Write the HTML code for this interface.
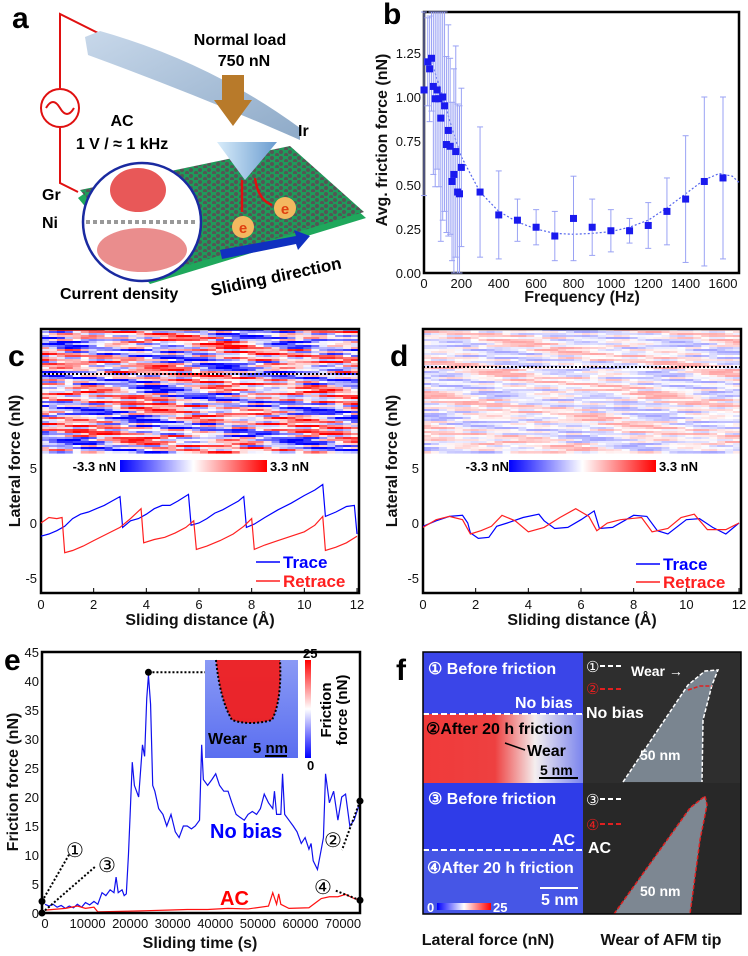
<!DOCTYPE html>
<html><head><meta charset="utf-8"><style>
html,body{margin:0;padding:0;background:#fff;}
svg{display:block;font-family:"Liberation Sans",Arial,sans-serif;}
.t{font-size:13px;fill:#111;}
.tt{font-size:16px;font-weight:bold;fill:#111;}
.pl{font-size:30px;font-weight:bold;fill:#000;}
.bw{font-weight:bold;fill:#fff;font-size:16px;}
</style></head><body>
<svg id="fig" width="748" height="956" viewBox="0 0 748 956" xmlns="http://www.w3.org/2000/svg">
<defs>
<linearGradient id="cbar" x1="0" x2="1"><stop offset="0" stop-color="#0000ff"/><stop offset="0.5" stop-color="#ffffff"/><stop offset="1" stop-color="#ff0000"/></linearGradient>
<linearGradient id="cbarv" x1="0" x2="0" y1="1" y2="0"><stop offset="0" stop-color="#0000ff"/><stop offset="0.5" stop-color="#ffffff"/><stop offset="1" stop-color="#ff0000"/></linearGradient>
<linearGradient id="wearmap" x1="0" x2="1"><stop offset="0" stop-color="#f03a3a"/><stop offset="0.45" stop-color="#ee4040"/><stop offset="0.7" stop-color="#f4eeee"/><stop offset="1" stop-color="#7a84ee"/></linearGradient>
<linearGradient id="insetg" x1="0" x2="0" y1="0" y2="1"><stop offset="0" stop-color="#8a9af5"/><stop offset="1" stop-color="#5a6ef0"/></linearGradient>
<linearGradient id="cant" x1="0" x2="1" y1="0" y2="1"><stop offset="0" stop-color="#c8d8ea"/><stop offset="1" stop-color="#8eaac8"/></linearGradient>
<linearGradient id="tipg" x1="0" x2="1"><stop offset="0" stop-color="#d8ecfa"/><stop offset="1" stop-color="#6a9cd0"/></linearGradient>
<pattern id="gr" width="9" height="6" patternUnits="userSpaceOnUse"><rect width="9" height="6" fill="#1f9a5a"/><circle cx="2" cy="2" r="2" fill="#555"/><circle cx="7" cy="5" r="2" fill="#555"/></pattern>
</defs>

<!-- Panel a -->
<g>
<text class="pl" x="12" y="28">a</text>
<polyline points="98,33 60,14 60,88" fill="none" stroke="#e01010" stroke-width="2"/>
<polyline points="60,128 60,183 78,192" fill="none" stroke="#e01010" stroke-width="2"/>
<circle cx="60" cy="108" r="19" fill="#fff" stroke="#e01010" stroke-width="2"/>
<path d="M46,108 Q53,96 60,108 T74,108" fill="none" stroke="#e01010" stroke-width="2"/>
<polygon points="78,198 92,188 290,150 366,218 150,284" fill="#1fa85c"/>
<polygon points="80,190 290,146 364,212 152,276" fill="url(#gr)"/>
<path d="M85,37 L100,31 Q210,62 300,128 L300,140 Q200,96 88,55 Z" fill="url(#cant)"/>
<polygon points="217,142 277,142 245,180" fill="url(#tipg)"/>
<polygon points="222,75 244,75 244,100 252,100 233,126 214,100 222,100" fill="#b87a2a"/>
<circle cx="142" cy="222" r="59" fill="#fff" stroke="#1a2aa0" stroke-width="2.5"/>
<ellipse cx="138" cy="190" rx="28" ry="22" fill="#e02020" opacity="0.75"/>
<ellipse cx="142" cy="250" rx="45" ry="22" fill="#d83030" opacity="0.55"/>
<line x1="86" y1="222" x2="198" y2="222" stroke="#999" stroke-width="4" stroke-dasharray="4 3"/>
<circle cx="243" cy="227" r="11" fill="#f4b860"/>
<text x="243" y="233" text-anchor="middle" font-size="15" font-weight="bold" fill="#e04010">e</text>
<circle cx="285" cy="208" r="11" fill="#f4b860"/>
<text x="285" y="214" text-anchor="middle" font-size="15" font-weight="bold" fill="#e04010">e</text>
<line x1="242" y1="180" x2="242" y2="212" stroke="#e01010" stroke-width="2.5"/>
<path d="M255,178 Q258,200 272,205" fill="none" stroke="#e01010" stroke-width="2.5"/>
<polygon points="220,250 296,236 294,230 310,236 298,250 296,244 222,259" fill="#1030c0"/>
<text x="240" y="45" text-anchor="middle" font-size="16" font-weight="bold">Normal load</text>
<text x="244" y="66" text-anchor="middle" font-size="16" font-weight="bold">750 nN</text>
<text x="122" y="126" text-anchor="middle" font-size="16" font-weight="bold">AC</text>
<text x="122" y="149" text-anchor="middle" font-size="16" font-weight="bold">1 V / ≈ 1 kHz</text>
<text x="298" y="136" font-size="16" font-weight="bold">Ir</text>
<text x="42" y="200" font-size="16" font-weight="bold">Gr</text>
<text x="42" y="228" font-size="16" font-weight="bold">Ni</text>
<text x="60" y="299" font-size="16" font-weight="bold">Current density</text>
<text x="212" y="296" font-size="17" font-weight="bold" transform="rotate(-12 212 296)">Sliding direction</text>
</g>

<!-- Panel b -->
<g id="pb">
<text class="pl" x="383" y="24">b</text>
<rect x="424" y="12" width="315" height="261" fill="none" stroke="#000" stroke-width="2.5"/>
<text class="tt" transform="translate(387,140) rotate(-90)" text-anchor="middle">Avg. friction force (nN)</text>
<text class="tt" x="582" y="302" text-anchor="middle">Frequency (Hz)</text>
</g>

<!-- Panel c -->
<g id="pc">
<text class="pl" x="8" y="366">c</text>
<g id="hmc"></g>
<rect x="41" y="329" width="318" height="264" fill="none" stroke="#000" stroke-width="2.5"/>
<line x1="40" y1="374" x2="359" y2="374" stroke="#000" stroke-width="2" stroke-dasharray="2 2"/>
<text x="116" y="471" text-anchor="end" font-size="13" font-weight="bold">-3.3 nN</text>
<rect x="120" y="460" width="147" height="12" fill="url(#cbar)"/>
<text x="270" y="471" font-size="13" font-weight="bold">3.3 nN</text>
<text class="tt" transform="translate(20,461) rotate(-90)" text-anchor="middle">Lateral force  (nN)</text>
<text class="tt" x="200" y="625" text-anchor="middle">Sliding distance  (Å)</text>
<line x1="256" y1="562" x2="280" y2="562" stroke="#0000ff" stroke-width="1.5"/>
<text x="283" y="568" font-size="17" font-weight="bold" fill="#0000ff">Trace</text>
<line x1="256" y1="581" x2="280" y2="581" stroke="#ff2020" stroke-width="1.5"/>
<text x="283" y="587" font-size="17" font-weight="bold" fill="#ff2020">Retrace</text>
</g>

<!-- Panel d -->
<g id="pd">
<text class="pl" x="390" y="366">d</text>
<g id="hmd"></g>
<rect x="423" y="329" width="318" height="264" fill="none" stroke="#000" stroke-width="2.5"/>
<line x1="423" y1="367" x2="741" y2="367" stroke="#000" stroke-width="2" stroke-dasharray="2 2"/>
<text x="509" y="471" text-anchor="end" font-size="13" font-weight="bold">-3.3 nN</text>
<rect x="509" y="460" width="147" height="12" fill="url(#cbar)"/>
<text x="659" y="471" font-size="13" font-weight="bold">3.3 nN</text>
<text class="tt" transform="translate(397,461) rotate(-90)" text-anchor="middle">Lateral force  (nN)</text>
<text class="tt" x="582" y="625" text-anchor="middle">Sliding distance (Å)</text>
<line x1="636" y1="564" x2="660" y2="564" stroke="#0000ff" stroke-width="1.5"/>
<text x="663" y="570" font-size="17" font-weight="bold" fill="#0000ff">Trace</text>
<line x1="636" y1="582" x2="660" y2="582" stroke="#ff2020" stroke-width="1.5"/>
<text x="663" y="588" font-size="17" font-weight="bold" fill="#ff2020">Retrace</text>
</g>

<!-- Panel e -->
<g id="pe">
<text class="pl" x="4" y="670">e</text>
<text class="tt" transform="translate(18,782) rotate(-90)" text-anchor="middle">Friction force  (nN)</text>
<text class="tt" x="200" y="948" text-anchor="middle">Sliding time (s)</text>
<text x="210" y="838" font-size="20" font-weight="bold" fill="#0000ff">No bias</text>
<text x="220" y="905" font-size="20" font-weight="bold" fill="#ff0000">AC</text>
<rect x="205" y="660" width="93" height="98" fill="url(#insetg)"/>
<path d="M216,660 Q220,700 232,720 Q250,726 272,720 Q282,700 280,660 Z" fill="#f02020" opacity="0.95"/>
<path d="M216,660 Q220,700 232,720 Q250,726 272,720 Q282,700 280,660" fill="none" stroke="#000" stroke-width="2" stroke-dasharray="2 2"/>
<text x="208" y="744" font-size="16" font-weight="bold">Wear</text>
<text x="253" y="753" font-size="15" font-weight="bold">5 nm</text>
<line x1="265" y1="756" x2="287" y2="756" stroke="#000" stroke-width="2"/>
<rect x="305" y="660" width="6" height="98" fill="url(#cbarv)"/>
<text x="303" y="658" font-size="13" font-weight="bold">25</text>
<text x="307" y="770" font-size="13" font-weight="bold">0</text>
<text font-size="15" font-weight="bold" transform="translate(331,710) rotate(-90)" text-anchor="middle">Friction</text>
<text font-size="15" font-weight="bold" transform="translate(347,710) rotate(-90)" text-anchor="middle">force (nN)</text>
<text x="75" y="857" font-size="20" text-anchor="middle">①</text>
<text x="107" y="872" font-size="20" text-anchor="middle">③</text>
<text x="333" y="847" font-size="20" text-anchor="middle">②</text>
<text x="323" y="894" font-size="20" text-anchor="middle">④</text>
</g>

<!-- Panel f -->
<g>
<text class="pl" x="396" y="680">f</text>
<rect x="423" y="652" width="160" height="62" fill="#3a45e8"/>
<rect x="423" y="714" width="160" height="69" fill="url(#wearmap)"/>
<rect x="423" y="783" width="160" height="67" fill="#2f3ce8"/>
<rect x="423" y="850" width="160" height="64" fill="#4656e6"/>
<line x1="423" y1="714" x2="583" y2="714" stroke="#fff" stroke-width="2" stroke-dasharray="6 3"/>
<line x1="423" y1="850" x2="583" y2="850" stroke="#fff" stroke-width="2" stroke-dasharray="6 3"/>
<rect x="583" y="652" width="158" height="131" fill="#2e2e2e"/>
<rect x="583" y="783" width="158" height="131" fill="#282828"/>
<polygon points="623,782 688,685 705,671 718,670 712,685 703,720 702,782" fill="#7a8590"/>
<polyline points="623,782 688,685 705,671 718,670 712,685 703,720 702,782" fill="none" stroke="#fff" stroke-width="1.5" stroke-dasharray="4 2"/>
<polyline points="688,690 700,686 712,686" fill="none" stroke="#e02020" stroke-width="1.5" stroke-dasharray="4 2"/>
<polygon points="614,914 690,808 705,796 707,805 700,840 690,914" fill="#7d8792"/>
<polyline points="614,914 690,808 705,796 707,805 700,840 690,914" fill="none" stroke="#e02020" stroke-width="1.5" stroke-dasharray="4 2"/>
<rect x="423" y="652" width="318" height="262" fill="none" stroke="#000" stroke-width="1.5"/>
<text class="bw" x="428" y="674">① Before friction</text>
<text class="bw" x="515" y="708">No bias</text>
<text x="426" y="734" font-size="16" font-weight="bold">②After 20 h friction</text>
<text x="527" y="756" font-size="16" font-weight="bold">Wear</text>
<line x1="505" y1="743" x2="525" y2="750" stroke="#000" stroke-width="1.5"/>
<text x="540" y="775" font-size="14" font-weight="bold">5 nm</text>
<line x1="539" y1="778" x2="578" y2="778" stroke="#000" stroke-width="2"/>
<text class="bw" x="428" y="804">③ Before friction</text>
<text class="bw" x="552" y="845">AC</text>
<text class="bw" x="427" y="873">④After 20 h friction</text>
<line x1="540" y1="888" x2="578" y2="888" stroke="#fff" stroke-width="2"/>
<text class="bw" x="541" y="905" font-size="14">5 nm</text>
<text x="427" y="912" font-size="13" font-weight="bold" fill="#fff">0</text>
<rect x="437" y="903" width="54" height="7" fill="url(#cbar)"/>
<text x="493" y="912" font-size="13" font-weight="bold" fill="#fff">25</text>
<text x="586" y="672" font-size="15" fill="#fff">①</text><line x1="600" y1="666" x2="622" y2="666" stroke="#fff" stroke-width="2" stroke-dasharray="5 3"/>
<text x="631" y="676" font-size="14" font-weight="bold" fill="#fff">Wear →</text>
<text x="586" y="694" font-size="15" fill="#e02020">②</text><line x1="600" y1="689" x2="622" y2="689" stroke="#e02020" stroke-width="2" stroke-dasharray="5 3"/>
<text class="bw" x="586" y="718">No bias</text>
<text x="640" y="760" font-size="14" font-weight="bold" fill="#fff">50 nm</text>
<text x="586" y="805" font-size="15" fill="#fff">③</text><line x1="600" y1="799" x2="622" y2="799" stroke="#fff" stroke-width="2" stroke-dasharray="5 3"/>
<text x="586" y="830" font-size="15" fill="#e02020">④</text><line x1="600" y1="824" x2="622" y2="824" stroke="#e02020" stroke-width="2" stroke-dasharray="5 3"/>
<text class="bw" x="588" y="853">AC</text>
<text x="640" y="896" font-size="14" font-weight="bold" fill="#fff">50 nm</text>
<text class="tt" x="488" y="945" text-anchor="middle">Lateral force (nN)</text>
<text class="tt" x="661" y="945" text-anchor="middle">Wear of AFM tip</text>
</g>
</svg>
<script>
// Panel b data
var bFreq = [0,20,30,40,50,60,70,80,90,100,110,120,130,140,150,160,170,180,190,200,300,400,500,600,700,800,900,1000,1100,1200,1300,1400,1500,1600];
var bVal  = [1.04,1.20,1.16,1.22,1.06,0.99,1.04,0.99,0.88,1.00,0.95,0.73,0.81,0.72,0.52,0.56,0.69,0.46,0.45,0.60,0.46,0.33,0.30,0.26,0.21,0.31,0.26,0.24,0.24,0.27,0.35,0.42,0.52,0.54];
var bErr  = [0.6,0.25,0.3,0.3,0.5,0.5,0.45,0.5,0.7,0.7,0.6,0.5,0.6,0.5,0.45,0.6,0.6,0.5,0.5,0.45,0.37,0.25,0.12,0.10,0.14,0.24,0.16,0.12,0.07,0.13,0.19,0.36,0.48,0.46];
var bFitX = [40,100,150,200,300,400,500,600,700,800,900,1000,1100,1200,1300,1400,1500,1580,1650,1690];
var bFitY = [1.2,1.0,0.82,0.66,0.46,0.35,0.29,0.25,0.225,0.22,0.225,0.235,0.26,0.3,0.37,0.45,0.53,0.565,0.55,0.51];
var bXTicks = [0,200,400,600,800,1000,1200,1400,1600];
var bYTicks = [0,0.25,0.5,0.75,1.0,1.25];
// Panel c data
var cTraceX = [0,0.3,0.6,0.9,1.2,1.5,1.8,2.1,2.4,2.7,3.0,3.1,3.4,3.7,4.0,4.3,4.6,4.9,5.2,5.6,5.7,6.0,6.3,6.6,6.9,7.2,7.5,7.7,7.8,8.1,8.5,9.0,9.5,10.0,10.4,10.7,10.8,11.2,11.6,11.9,12.0];
var cTraceY = [-1.2,-1.0,-0.7,-0.3,0.4,0.8,1.0,1.3,1.6,2.0,2.4,-0.4,0.2,0.4,0.8,1.3,1.6,1.6,2.0,2.6,-0.2,0.0,0.4,0.9,1.2,1.6,2.0,2.4,-0.4,-0.1,0.5,1.2,1.8,2.5,3.0,3.5,0.6,1.0,1.5,1.6,-1.0];
var cRetrX = [0,0.3,0.6,0.8,0.9,1.2,1.6,2.0,2.5,3.0,3.4,3.8,3.9,4.3,4.7,5.1,5.5,5.8,5.9,6.3,6.8,7.3,7.7,8.0,8.1,8.5,9.0,9.5,10.0,10.4,10.7,10.8,11.2,11.6,12.0];
var cRetrY = [0,0.5,0.4,0.5,-2.7,-2.5,-2.1,-1.6,-1.0,-0.4,0.4,1.3,-1.8,-1.5,-1.3,-0.9,-0.4,0.2,-2.4,-2.1,-1.6,-1.0,-0.3,0.4,-2.4,-2.0,-1.6,-1.2,-0.8,-0.2,0.6,-2.5,-2.2,-1.8,-1.2];
var cdXTicks = [0,2,4,6,8,10,12];
var cdYTicks = [-5,0,5];
// Panel d data
var dTraceX = [0,0.5,1,1.5,1.7,1.8,2.1,2.5,2.8,3.2,3.8,4.4,4.6,5,5.5,6,6.5,6.7,7.2,8,8.5,8.9,9.3,10,10.5,11,11.5,12];
var dTraceY = [-0.3,0.2,0.6,0.7,0,-0.9,-1.4,-1.3,-0.3,0,0.5,0.8,0.2,-0.5,-0.4,0.3,1.1,-0.5,-0.4,0.7,0.6,-0.7,-1.0,0.3,0.4,-0.4,-1.0,0];
var dRetrX = [0,0.5,1,1.5,1.8,2.2,2.6,3,3.5,4,4.6,5.2,5.8,6.3,6.6,7,7.5,8.3,8.7,9.3,9.8,10.3,10.8,11.5,12];
var dRetrY = [-0.4,0.3,0.6,0.3,-1.0,-0.7,-0.3,0.7,0.2,-0.8,-0.4,0.5,1.3,0.6,-0.7,0,0.3,0.5,-0.8,-0.5,0.5,0.8,-0.6,-0.6,0];
// Panel e data (time in s)
var eNoBiasT = [0,950,1900,2850,3800,4800,5700,6700,7600,8600,9500,10500,11500,12400,13400,14300,15300,16200,16700,17200,18100,18600,19100,19600,20000,20500,21000,22000,22900,23400,23900,24300,24800,25300,25800,26700,27700,28600,29600,30600,31500,32500,33400,34400,35300,36300,36800,37200,38200,39200,40100,41000,42000,43000,43900,44900,45800,46800,47700,48700,49700,50600,51500,52500,53500,53900,54400,55400,55800,56300,57300,58300,59200,60200,61100,62000,62500,63000,64000,64900,65400,65900,66800,67800,68800,69700,70600,71600,72600,73500,74000];
var eNoBiasF = [1.5,1.2,1.5,1.0,1.3,0.8,1.2,0.9,1.5,1.0,1.8,1.4,2.0,1.5,3.5,3.0,4.0,3.5,6.2,3.5,4.0,3.0,3.3,10,17,26,22,20,29,27,37,41,36,22,21,18,17,15,17,14,13,15,15,14.5,15,16,29,23,22,23,24,22,21,21,19,17,16.5,16,17,17.5,17,18,20.5,19,18,21,17,17,24,17,16,15,14,12,13,11,12,9,7.5,11,13,24,19,21,16,20,20.5,15,16,18,19.3];
var eACT = [0,4800,7600,9500,11500,12400,19100,23900,28600,33400,38200,43000,47700,52500,53500,54400,54900,55400,57300,62000,64000,64900,66800,68800,70600,72600,74000];
var eACF = [0.5,0.8,1.2,0.8,1.0,0.2,0.3,0.4,0.5,0.6,0.6,0.8,0.7,1.2,3.5,1.5,3.3,1.5,0.8,0.9,2.0,2.5,2.8,2.8,3.2,2.5,2.2];
var eXTicks = [0,10000,20000,30000,40000,50000,60000,70000];
var eYTicks = [0,5,10,15,20,25,30,35,40,45];

var NS = "http://www.w3.org/2000/svg";
function mk(tag, attrs, parent){var e=document.createElementNS(NS,tag);for(var k in attrs)e.setAttribute(k,attrs[k]);parent.appendChild(e);return e;}
function lin(d0,d1,r0,r1){return function(v){return r0+(v-d0)*(r1-r0)/(d1-d0);};}

// ---- Panel b
var gb=document.getElementById('pb');
var bx=lin(0,1600,424,723), by=lin(0,1.25,273,53);
bXTicks.forEach(function(v){var t=mk('text',{x:bx(v),y:288,'text-anchor':'middle','class':'t'},gb);t.textContent=v;

});
bYTicks.forEach(function(v){var t=mk('text',{x:421,y:by(v)+5,'text-anchor':'end','class':'t'},gb);t.textContent=v.toFixed(2);

});
var fp=bFitX.map(function(x,i){return bx(x)+','+by(bFitY[i]);}).join(' ');
var fl=mk('polyline',{points:fp,fill:'none',stroke:'#5566ee','stroke-width':1.2,'stroke-dasharray':'2 2'},gb);


bFreq.forEach(function(f,i){
  var x=bx(f), y0=Math.max(12,by(bVal[i]+bErr[i])), y1=Math.min(273,by(Math.max(0,bVal[i]-bErr[i])));
  var eb=mk('line',{x1:x,x2:x,y1:y0,y2:y1,stroke:'#9aa2f4','stroke-width':1},gb);
  
  
  mk('line',{x1:x-3,x2:x+3,y1:y0,y2:y0,stroke:'#9aa2f4','stroke-width':1},gb);
  mk('line',{x1:x-3,x2:x+3,y1:y1,y2:y1,stroke:'#9aa2f4','stroke-width':1},gb);
});
bFreq.forEach(function(f,i){
  var p=mk('rect',{x:bx(f)-3.5,y:by(bVal[i])-3.5,width:7,height:7,fill:'#1a1aee'},gb);
  
  
});

// ---- heatmaps (texture)
function heat(gid,x0,w,y0,h,amp,ph){
  var g=document.getElementById(gid), rows=62, rh=h/rows, segs=40, sw=w/segs;
  for(var r=0;r<rows;r++){for(var s=0;s<segs;s++){
    var v=Math.sin(s*0.45+r*0.9+Math.sin(r*1.7+ph)*3)+0.7*Math.sin(s*0.21-r*0.37+ph)+0.4*Math.sin(r*2.3+s*1.1);
    v=Math.max(-1,Math.min(1,v/1.6))*amp;
    var c=v>0?'rgb(255,'+Math.round(255*(1-v))+','+Math.round(255*(1-v))+')':'rgb('+Math.round(255*(1+v))+','+Math.round(255*(1+v))+',255)';
    mk('rect',{x:x0+s*sw,y:y0+r*rh,width:sw+0.6,height:rh+0.6,fill:c},g);
  }}
}
heat('hmc',41,318,329,124,1.0,0);
heat('hmd',423,318,329,124,0.35,1.3);

// ---- Panels c & d lines
function lat(gid,x0,x1,tx,ty,rx,ry,pre){
  var g=document.getElementById(gid), sx=lin(0,12,x0,x1), sy=lin(0,5,523,468);
  cdXTicks.forEach(function(v){var t=mk('text',{x:sx(v),y:609,'text-anchor':'middle','class':'t','font-size':'14'},g);t.textContent=v;
  
  
  mk('line',{x1:sx(v),x2:sx(v),y1:593,y2:588,stroke:'#000'},g);});
  cdYTicks.forEach(function(v){var t=mk('text',{x:x0-4,y:sy(v)+5,'text-anchor':'end','class':'t','font-size':'14'},g);t.textContent=v;
  
  });
  var a=mk('polyline',{points:tx.map(function(x,i){return sx(x)+','+sy(ty[i]);}).join(' '),fill:'none',stroke:'#0000ff','stroke-width':1.2},g);
  
  
  var b=mk('polyline',{points:rx.map(function(x,i){return sx(x)+','+sy(ry[i]);}).join(' '),fill:'none',stroke:'#ff2020','stroke-width':1.2},g);
  
  
}
lat('pc',41,357,cTraceX,cTraceY,cRetrX,cRetrY,'c');
lat('pd',423,739,dTraceX,dTraceY,dRetrX,dRetrY,'d');

// ---- Panel e
var ge=document.getElementById('pe');
var ex=lin(0,70000,45,343), ey=lin(0,45,913,652);
eXTicks.forEach(function(v){var t=mk('text',{x:ex(v),y:928,'text-anchor':'middle','class':'t'},ge);t.textContent=v;

});
eYTicks.forEach(function(v){var t=mk('text',{x:39,y:ey(v)+5,'text-anchor':'end','class':'t','font-size':'14'},ge);t.textContent=v;

});
var nl=mk('polyline',{points:eNoBiasT.map(function(t,i){return ex(t)+','+ey(eNoBiasF[i]);}).join(' '),fill:'none',stroke:'#1010ee','stroke-width':1.2},ge);


var al=mk('polyline',{points:eACT.map(function(t,i){return ex(t)+','+ey(eACF[i]);}).join(' '),fill:'none',stroke:'#ff1010','stroke-width':1.2},ge);


var fr=mk('rect',{x:42,y:652,width:318,height:261,fill:'none',stroke:'#000','stroke-width':2.5},ge);


var pk=mk('circle',{cx:ex(24300),cy:ey(41.5),r:3.5,fill:'#000'},ge);


mk('line',{x1:ex(24300),y1:ey(41.5),x2:205,y2:ey(41.5),stroke:'#000','stroke-width':2,'stroke-dasharray':'2 2'},ge);
[[42,ey(2),70,853],[42,913,96,866],[360,ey(19.3),342,850],[360,ey(2.2),334,890]].forEach(function(a){
  mk('circle',{cx:a[0],cy:a[1],r:3.5,fill:'#000'},ge);
  mk('line',{x1:a[0],y1:a[1],x2:a[2],y2:a[3],stroke:'#000','stroke-width':2,'stroke-dasharray':'2 2'},ge);
});
</script>
</body></html>
